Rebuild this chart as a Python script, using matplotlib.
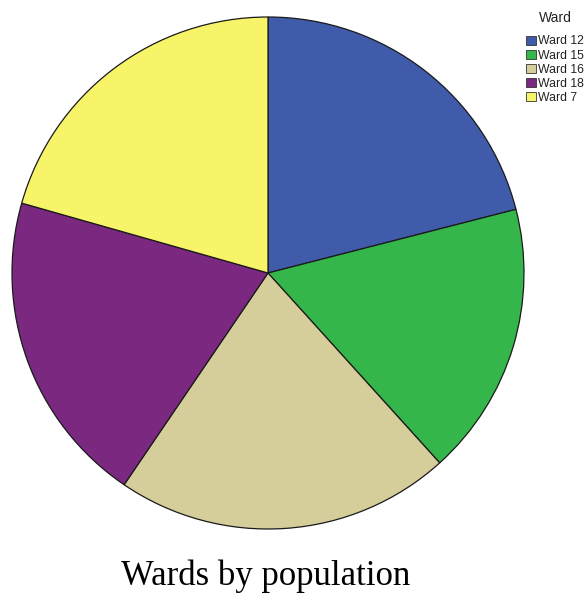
import matplotlib
matplotlib.use("Agg")
import matplotlib.pyplot as plt
from matplotlib.patches import Patch

# Data (shares, in percent)
wards = ["Ward 12", "Ward 15", "Ward 16", "Ward 18", "Ward 7"]
shares = [21.0, 17.3, 21.2, 19.9, 20.6]
colors = ["#3F5BA9", "#35B64A", "#D5CD9A", "#7A2880", "#F7F46A"]

fig = plt.figure(figsize=(5.87, 5.96), dpi=100)

# Pie axes, square in pixels
ax = fig.add_axes([12 / 587, 67 / 596, 512 / 587, 512 / 596])
ax.pie(
    shares,
    colors=colors,
    startangle=90,
    counterclock=False,
    radius=1.0,
    wedgeprops={"edgecolor": "#1a1a1a", "linewidth": 0.9},
)
ax.set_xlim(-1.0, 1.0)
ax.set_ylim(-1.0, 1.0)
ax.set_aspect("auto")
ax.axis("off")

# Legend title
fig.text(555 / 587, 1 - 18 / 596, "Ward", ha="center", va="center",
         family="Liberation Sans", fontsize=10, color="#222222")

# Legend (it touches the right edge like the original)
handles = [Patch(facecolor=c, edgecolor="#333333", linewidth=0.6) for c in colors]
leg = fig.legend(
    handles,
    wards,
    loc="upper left",
    bbox_to_anchor=(524 / 587, 1 - 33 / 596),
    frameon=False,
    prop={"family": "Liberation Sans", "size": 8.8},
    handlelength=0.8,
    handleheight=0.8,
    handletextpad=0.15,
    labelspacing=0.17,
    borderpad=0.2,
    borderaxespad=0.0,
)
for t in leg.get_texts():
    t.set_color("#222222")

# Title at the bottom
fig.text(266 / 587, 1 - 585 / 596, "Wards by population",
         ha="center", va="baseline", family="Liberation Serif", fontsize=25)

fig.savefig("out.png", dpi=100)
